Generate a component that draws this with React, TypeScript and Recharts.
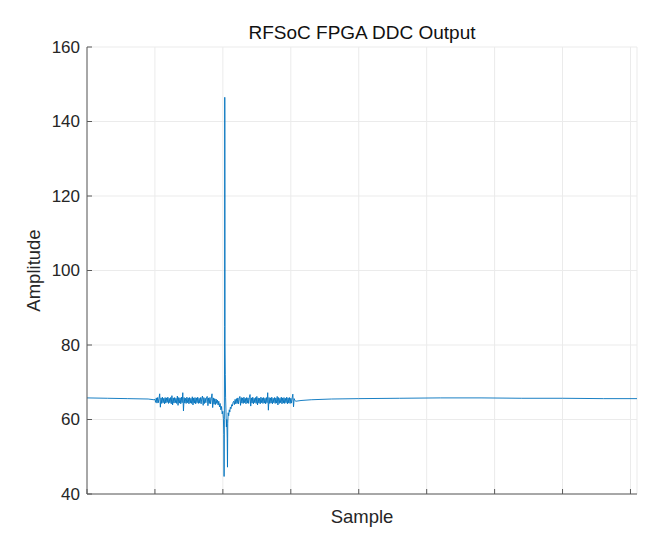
import { LineChart, Line, XAxis, YAxis, CartesianGrid, Label } from 'recharts';

// flat stretch before the noisy window: [sample, amplitude]
const leadIn: [number, number][] = [
  [0, 65.8], [300, 65.7], [600, 65.6], [900, 65.5], [985, 65.3],
];

// noisy window left of the pulse, one value every bandStep samples
const bandStep = 10;
const bandLeftStart = 1000;
const bandLeft = [
  65.4, 64.6, 65.8, 64.4, 65.9, 64.5, 65.7, 66.9, 63.3, 65.8,
  64.3, 66.0, 64.5, 65.7, 64.2, 65.9, 64.4, 65.8, 64.6, 66.0,
  64.3, 65.7, 64.5, 65.9, 64.2, 66.4, 63.9, 65.8, 64.4, 65.9,
  64.5, 65.7, 64.3, 66.3, 63.8, 65.9, 64.4, 65.8, 64.2, 66.0,
  64.5, 67.2, 62.3, 65.9, 64.4, 65.7, 64.3, 66.0, 64.5, 65.8,
  64.2, 65.9, 64.4, 65.7, 64.3, 66.1, 63.9, 65.8, 64.4, 65.9,
  64.2, 65.8, 64.5, 66.0, 64.3, 65.7, 64.4, 65.9, 64.2, 65.8,
  66.3, 63.8, 65.9, 64.3, 65.7, 64.5, 66.0, 66.2, 63.7, 65.8,
  64.3, 65.9, 64.2, 65.7, 66.9, 63.2, 65.8, 64.1, 65.6, 64.0,
  65.5,
];

// the pulse itself: [sample, amplitude]
const pulse: [number, number][] = [
  [1910, 64.3], [1920, 65.2], [1930, 63.9], [1940, 64.9], [1950, 63.4],
  [1960, 64.3], [1970, 62.6], [1980, 63.5], [1990, 61.5], [2000, 62.2],
  [2008, 60.2], [2014, 56.0], [2018, 44.7], [2022, 60.0], [2026, 85.0],
  [2028, 146.5], [2030, 120.0], [2032, 80.0], [2036, 72.0], [2040, 66.0],
  [2046, 62.0], [2052, 58.0], [2058, 60.0], [2064, 55.0], [2068, 47.2],
  [2072, 59.0], [2078, 61.8], [2086, 61.0], [2094, 62.6], [2102, 62.0],
  [2110, 63.3], [2120, 62.9], [2130, 64.0], [2140, 63.6], [2150, 64.6],
];

// noisy window right of the pulse
const bandRightStart = 2160;
const bandRight = [
  64.9, 64.0, 65.4, 64.2, 65.6, 64.3, 65.8, 64.2, 65.7, 66.2,
  63.8, 65.9, 64.4, 65.8, 64.3, 66.0, 64.5, 65.7, 64.2, 65.9,
  64.4, 65.8, 64.3, 65.9, 66.7, 63.6, 65.8, 64.4, 66.0, 64.2,
  65.7, 64.5, 65.9, 64.3, 66.2, 63.9, 65.8, 64.4, 65.7, 64.2,
  66.0, 64.5, 65.8, 64.3, 65.9, 64.4, 65.7, 64.2, 65.9, 64.5,
  67.2, 62.5, 65.9, 64.3, 65.8, 64.4, 66.0, 64.2, 65.7, 64.5,
  65.9, 64.3, 65.8, 64.4, 66.2, 63.9, 65.9, 64.3, 65.7, 64.5,
  66.0, 64.2, 65.8, 64.4, 65.9, 64.3, 65.7, 64.5, 66.0, 64.2,
  65.8, 64.4, 65.9, 64.3, 65.7, 64.4, 65.8, 66.8, 63.4, 65.6,
  65.1,
];

// slow settle to the end of the record
const tail: [number, number][] = [
  [3075, 64.9], [3150, 65.1], [3300, 65.3], [3600, 65.5], [4000, 65.6],
  [4600, 65.7], [5200, 65.8], [5800, 65.8], [6400, 65.7], [7000, 65.7],
  [7600, 65.6], [8096, 65.6],
];

const sampleTicks = [0, 1000, 2000, 3000, 4000, 5000, 6000, 7000, 8000];
const ampTicks = [40, 60, 80, 100, 120, 140, 160];

const data = [
  ...leadIn.map(([sample, amp]) => ({ sample, amp })),
  ...bandLeft.map((amp, i) => ({ sample: bandLeftStart + i * bandStep, amp })),
  ...pulse.map(([sample, amp]) => ({ sample, amp })),
  ...bandRight.map((amp, i) => ({ sample: bandRightStart + i * bandStep, amp })),
  ...tail.map(([sample, amp]) => ({ sample, amp })),
];

const FONT = '"Liberation Sans", Arial, Helvetica, sans-serif';
const INK = '#262626';
const AXIS = '#5a5a5a';

function AmpTick({ x, y, payload }: any) {
  return (
    <g>
      <line x1={x} x2={x + 5} y1={y} y2={y} stroke={AXIS} />
      <text x={x - 7} y={y} dy="0.35em" textAnchor="end" fill={INK} fontSize={17} fontFamily={FONT}>
        {payload.value}
      </text>
    </g>
  );
}

function SampleTick({ x, y }: any) {
  return <line x1={x} x2={x} y1={y} y2={y - 5} stroke={AXIS} />;
}

export default function App() {
  return (
    <div style={{ position: 'relative', width: 657, height: 545, fontFamily: FONT }}>
      <style>{'body{margin:0}'}</style>
      <div
        style={{
          position: 'absolute', left: 87, width: 550, top: 23, textAlign: 'center',
          fontSize: 19, lineHeight: '19px', color: '#111',
        }}
      >
        RFSoC FPGA DDC Output
      </div>
      <LineChart width={657} height={545} data={data} margin={{ top: 47, right: 20, bottom: 0, left: 0 }}>
        <CartesianGrid stroke="#ebebeb" />
        <XAxis
          type="number"
          dataKey="sample"
          domain={[0, 8096]}
          ticks={sampleTicks}
          allowDataOverflow
          height={51}
          stroke={AXIS}
          tickLine={false}
          tickSize={0}
          tickMargin={0}
          tick={<SampleTick />}
        >
          <Label
            content={({ viewBox }: any) => (
              <text x={viewBox.x + viewBox.width / 2} y={viewBox.y + 29} textAnchor="middle" fill={INK} fontSize={18.5} fontFamily={FONT}>
                Sample
              </text>
            )}
          />
        </XAxis>
        <YAxis
          type="number"
          domain={[40, 160]}
          ticks={ampTicks}
          width={87}
          stroke={AXIS}
          tickLine={false}
          tickSize={0}
          tickMargin={0}
          tick={<AmpTick />}
        >
          <Label
            content={({ viewBox }: any) => {
              const cx = viewBox.x + 40;
              const cy = viewBox.y + viewBox.height / 2;
              return (
                <text x={cx} y={cy} transform={`rotate(-90 ${cx} ${cy})`} textAnchor="middle" fill={INK} fontSize={18.5} fontFamily={FONT}>
                  Amplitude
                </text>
              );
            }}
          />
        </YAxis>
        <Line type="linear" dataKey="amp" stroke="#0072BD" strokeWidth={0.9} dot={false} isAnimationActive={false} />
      </LineChart>
    </div>
  );
}
